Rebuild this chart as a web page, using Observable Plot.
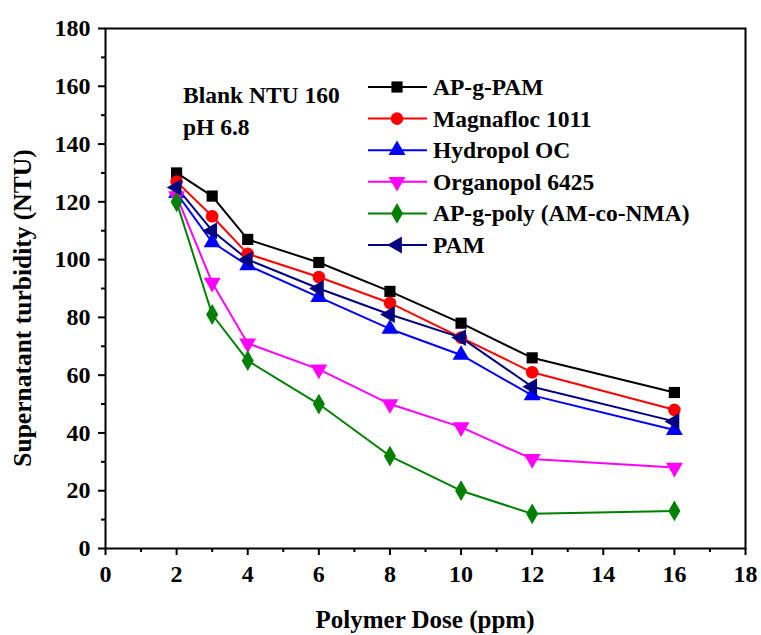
<!DOCTYPE html>
<html>
<head>
<meta charset="utf-8">
<script src="https://cdn.jsdelivr.net/npm/d3@7"></script>
<script src="https://cdn.jsdelivr.net/npm/@observablehq/plot@0.6"></script>
<style>
  html, body { margin: 0; padding: 0; background: white; }
</style>
</head>
<body>
<div id="chart"></div>
<script>
const doses = [2, 3, 4, 6, 8, 10, 12, 16];
const seriesNames = ["AP-g-PAM", "Magnafloc 1011", "Hydropol OC", "Organopol 6425", "AP-g-poly (AM-co-NMA)", "PAM"];
const apgPam    = [130, 122, 107, 99, 89, 78, 66, 54];
const magnafloc = [127, 115, 102, 94, 85, 73, 61, 48];
const hydropol  = [123, 106, 98, 87, 76, 67, 53, 41];
const organopol = [122, 92, 71, 62, 50, 42, 31, 28];
const apgPoly   = [120, 81, 65, 50, 32, 20, 12, 13];
const pam       = [125, 110, 100, 90, 81, 73, 56, 44];
const seriesValues = [apgPam, magnafloc, hydropol, organopol, apgPoly, pam];
const seriesColors = ["#000000", "#ff0000", "#0000ff", "#ff00ff", "#008000", "#000080"];
const seriesSymbols = ["square", "circle", "triangle", "triangle", "diamond", "triangle"];
const seriesRotate = [0, 0, 0, 180, 0, -90];
const xTicks = [0, 2, 4, 6, 8, 10, 12, 14, 16, 18];
const yTicks = [0, 20, 40, 60, 80, 100, 120, 140, 160, 180];
const xMinor = [1, 3, 5, 7, 9, 11, 13, 15, 17];
const yMinor = [10, 30, 50, 70, 90, 110, 130, 150, 170];
const xTitle = "Polymer Dose (ppm)";
const yTitle = "Supernatant turbidity (NTU)";
const notes = ["Blank NTU 160", "pH 6.8"];

const data = [];
seriesNames.forEach((name, i) => {
  doses.forEach((d, j) => data.push({series: name, idx: i, dose: d, value: seriesValues[i][j]}));
});

const FONT = "Liberation Serif, Times New Roman, Times, serif";
const W = 761, H = 635;
const mL = 105, mR = 16, mT = 28, mB = 87;
const R = 6.3;

const chart = Plot.plot({
  width: W, height: H,
  marginLeft: mL, marginRight: mR, marginTop: mT, marginBottom: mB,
  style: {fontFamily: FONT, fontSize: "24px", fontWeight: "bold", color: "black", background: "white"},
  x: {domain: [0, 18]},
  y: {domain: [0, 180]},
  color: {domain: seriesNames, range: seriesColors},
  symbol: {domain: seriesNames, range: seriesSymbols},
  marks: [
    Plot.axisX({ticks: xMinor, tickSize: 4, tickFormat: () => "", label: null, strokeWidth: 2}),
    Plot.axisY({ticks: yMinor, tickSize: 4, tickFormat: () => "", label: null, strokeWidth: 2}),
    Plot.axisX({ticks: xTicks, tickSize: 7, tickPadding: 9, label: null, strokeWidth: 2}),
    Plot.axisY({ticks: yTicks, tickSize: 7, tickPadding: 8, label: null, strokeWidth: 2}),
    Plot.frame({stroke: "black", strokeWidth: 2}),
    Plot.line(data, {x: "dose", y: "value", z: "series", stroke: "series", strokeWidth: 2}),
    Plot.dot(data, {x: "dose", y: "value", fill: "series", symbol: "series",
      rotate: d => seriesRotate[d.idx], r: R, stroke: "none"})
  ]
});

document.getElementById("chart").appendChild(chart);

const svg = d3.select(chart);
// axis titles
svg.append("text")
  .attr("x", mL + (W - mL - mR) / 2).attr("y", 619)
  .attr("text-anchor", "middle").attr("dominant-baseline", "central")
  .attr("font-family", FONT).attr("font-size", 25).attr("font-weight", "bold")
  .text(xTitle);
svg.append("text")
  .attr("transform", `translate(22,${mT + (H - mT - mB) / 2 + 20}) rotate(-90)`)
  .attr("text-anchor", "middle").attr("dominant-baseline", "central")
  .attr("font-family", FONT).attr("font-size", 25.5).attr("font-weight", "bold")
  .text(yTitle);

// notes
const ng = svg.append("g").attr("font-family", FONT).attr("font-size", 23.5)
  .attr("font-weight", "bold").attr("text-anchor", "start");
notes.forEach((t, i) => {
  ng.append("text").attr("x", 183).attr("y", 95 + i * 32).attr("dominant-baseline", "central").text(t);
});

// legend
const lg = svg.append("g").attr("font-family", FONT).attr("font-size", 23.5)
  .attr("font-weight", "bold").attr("text-anchor", "start");
const symMap = {square: d3.symbolSquare, circle: d3.symbolCircle, triangle: d3.symbolTriangle, diamond: d3.symbolDiamond};
seriesNames.forEach((name, i) => {
  const y = 87 + i * 31.6;
  lg.append("line").attr("x1", 368).attr("x2", 427).attr("y1", y).attr("y2", y)
    .attr("stroke", seriesColors[i]).attr("stroke-width", 2);
  lg.append("path")
    .attr("d", d3.symbol(symMap[seriesSymbols[i]], R * R * Math.PI)())
    .attr("transform", `translate(397,${y}) rotate(${seriesRotate[i]})`)
    .attr("fill", seriesColors[i]);
  lg.append("text").attr("x", 433).attr("y", y).attr("dominant-baseline", "central").text(name);
});
</script>
</body>
</html>
